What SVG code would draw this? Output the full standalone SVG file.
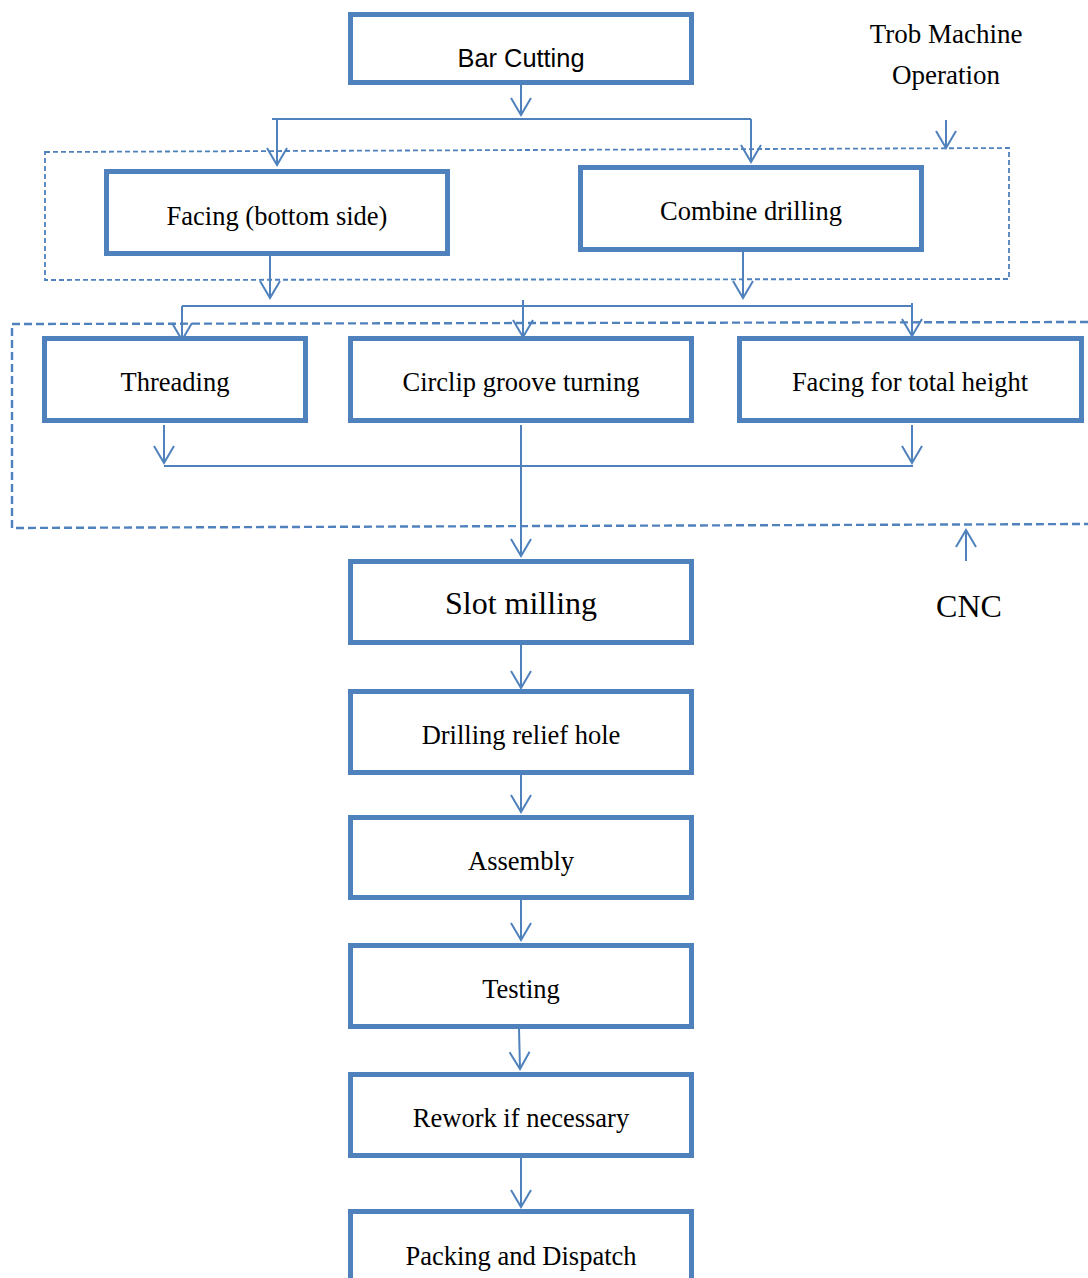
<svg xmlns="http://www.w3.org/2000/svg" width="1088" height="1278" viewBox="0 0 1088 1278">
<style>
.box{fill:#fff;stroke:#4f81bd;stroke-width:5}
.con{fill:none;stroke:#4f81bd;stroke-width:2}
.dash{fill:none;stroke:#4f81bd;stroke-width:1.8;stroke-dasharray:5 3}
.dash2{fill:none;stroke:#4f81bd;stroke-width:2.4;stroke-dasharray:8 4}
.t{font-family:"Liberation Serif","Times New Roman",serif;font-size:26.5px;fill:#000;text-anchor:middle}
.big{font-size:32px}
.s{font-family:"Liberation Sans",Arial,sans-serif;font-size:25.4px;fill:#000;text-anchor:middle}
</style>
<defs>
<marker id="ah" markerUnits="userSpaceOnUse" viewBox="-20 -12 24 24" markerWidth="24" markerHeight="24" refX="0" refY="0" orient="auto">
<path d="M-17,-10 L0,0 L-17,10" fill="none" stroke="#4f81bd" stroke-width="2"/>
</marker>
</defs>
<rect width="1088" height="1278" fill="#fff"/>
<g id="groups">
<path class="dash" d="M45,152 L1009,148 L1009,279 L45,280 Z"/>
<path class="dash2" d="M1088,322 L12,324 L12,528 L1088,524"/>
</g>
<g id="connectors">
<path class="con" marker-end="url(#ah)" d="M521,85 V115"/>
<path class="con" d="M272,119 H751"/>
<path class="con" marker-end="url(#ah)" d="M277,119 V165"/>
<path class="con" marker-end="url(#ah)" d="M751,119 V162"/>
<path class="con" marker-end="url(#ah)" d="M946,120 V148"/>
<path class="con" marker-end="url(#ah)" d="M270,256 V298"/>
<path class="con" marker-end="url(#ah)" d="M743,252 V298"/>
<path class="con" d="M182,306 H912"/>
<path class="con" marker-end="url(#ah)" d="M182,306 V340"/>
<path class="con" marker-end="url(#ah)" d="M523,300 V337"/>
<path class="con" marker-end="url(#ah)" d="M912,303 V336"/>
<path class="con" marker-end="url(#ah)" d="M164,425 V463"/>
<path class="con" d="M164,466 H913"/>
<path class="con" marker-end="url(#ah)" d="M912,425 V463"/>
<path class="con" marker-end="url(#ah)" d="M521,425 V556"/>
<path class="con" marker-end="url(#ah)" d="M966,561 V530"/>
<path class="con" marker-end="url(#ah)" d="M521,645 V688"/>
<path class="con" marker-end="url(#ah)" d="M521,775 V812"/>
<path class="con" marker-end="url(#ah)" d="M521,900 V940"/>
<path class="con" marker-end="url(#ah)" d="M519,1028 L520,1069"/>
<path class="con" marker-end="url(#ah)" d="M521,1157 V1207"/>
</g>
<g id="bar-cutting"><rect class="box" x="350.5" y="14.5" width="341" height="68"/><text class="s" x="521" y="67">Bar Cutting</text></g>
<g id="facing-bottom"><rect class="box" x="106.5" y="171.5" width="341" height="82"/><text class="t" x="277" y="225">Facing (bottom side)</text></g>
<g id="combine-drilling"><rect class="box" x="580.5" y="167.5" width="341" height="82"/><text class="t" x="751" y="220">Combine drilling</text></g>
<g id="trob-label"><text class="t" x="946" y="43" style="font-size:27px">Trob Machine</text><text class="t" x="946" y="84" style="font-size:27px">Operation</text></g>
<g id="threading"><rect class="box" x="44.5" y="338.5" width="261" height="82"/><text class="t" x="175" y="391">Threading</text></g>
<g id="circlip"><rect class="box" x="350.5" y="338.5" width="341" height="82"/><text class="t" x="521" y="391">Circlip groove turning</text></g>
<g id="facing-total"><rect class="box" x="739.5" y="338.5" width="342" height="82"/><text class="t" x="910" y="391">Facing for total height</text></g>
<g id="slot-milling"><rect class="box" x="350.5" y="561.5" width="341" height="81"/><text class="t big" x="521" y="614">Slot milling</text></g>
<g id="cnc-label"><text class="t big" x="969" y="617">CNC</text></g>
<g id="drilling-relief"><rect class="box" x="350.5" y="691.5" width="341" height="81"/><text class="t" x="521" y="744">Drilling relief hole</text></g>
<g id="assembly"><rect class="box" x="350.5" y="817.5" width="341" height="80"/><text class="t" x="521" y="870">Assembly</text></g>
<g id="testing"><rect class="box" x="350.5" y="945.5" width="341" height="81"/><text class="t" x="521" y="998">Testing</text></g>
<g id="rework"><rect class="box" x="350.5" y="1074.5" width="341" height="81"/><text class="t" x="521" y="1127">Rework if necessary</text></g>
<g id="packing"><rect class="box" x="350.5" y="1211.5" width="341" height="90"/><text class="t" x="521" y="1265">Packing and Dispatch</text></g>
</svg>
